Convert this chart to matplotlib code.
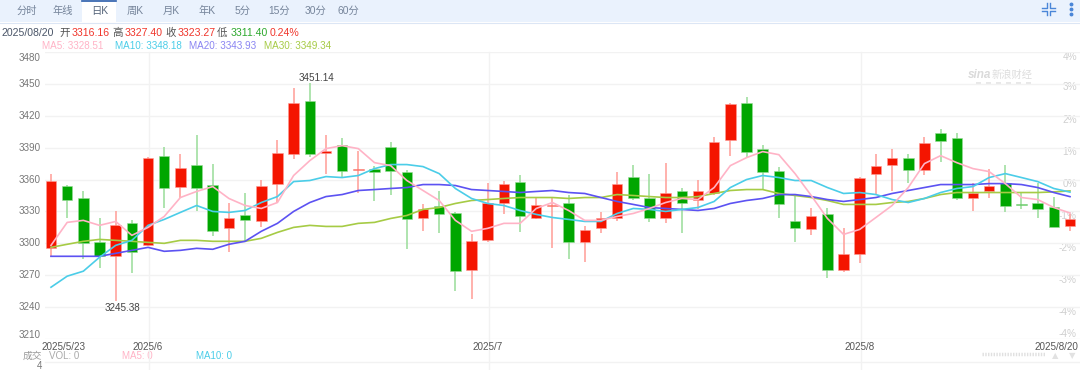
import matplotlib
matplotlib.use('Agg')
import matplotlib.pyplot as plt
from matplotlib.patches import Rectangle

W, H = 1080, 370
CJK = ['Liberation Sans', 'Noto Sans CJK SC', 'DejaVu Sans']
plt.rcParams['font.family'] = CJK

tabs = ['分时', '年线', '日K', '周K', '月K', '年K', '5分', '15分', '30分', '60分']
tab_x = [27, 63, 100, 135, 171, 207, 243, 279, 315, 348]

opens = [3295.3, 3354.4, 3343.1, 3300.9, 3287.8, 3318.8, 3298.1, 3382.5, 3353.4, 3374.1,
         3355.3, 3314.1, 3326.2, 3320.6, 3356.2, 3384.4, 3434.1, 3385.3, 3392.8, 3368.9,
         3370.3, 3390.9, 3367.5, 3324.3, 3334.7, 3328.1, 3274.7, 3302.8, 3338.4, 3358.1,
         3324.3, 3334.7, 3338.4, 3300.9, 3314.1, 3323.4, 3362.8, 3343.1, 3323.4, 3348.8,
         3340.3, 3347.8, 3397.5, 3432.2, 3389.1, 3368.4, 3320.6, 3313.1, 3327.2, 3274.7,
         3289.7, 3365.6, 3374.1, 3380.6, 3369.4, 3404.1, 3399.4, 3342.2, 3348.8, 3357.2,
         3336.6, 3337.5, 3333.8, 3316.16]
closes = [3359.1, 3341.2, 3300.0, 3287.8, 3316.9, 3291.5, 3380.6, 3352.5, 3371.3, 3351.6,
          3311.3, 3324.3, 3321.6, 3354.4, 3385.3, 3432.2, 3384.4, 3387.2, 3368.4, 3370.3,
          3367.5, 3368.4, 3322.5, 3331.9, 3327.2, 3273.8, 3301.9, 3338.4, 3356.2, 3325.3,
          3335.6, 3335.6, 3300.9, 3312.2, 3323.4, 3356.2, 3343.1, 3324.3, 3346.9, 3338.4,
          3349.2, 3395.6, 3431.2, 3386.3, 3367.5, 3336.6, 3314.1, 3325.3, 3274.7, 3289.7,
          3361.9, 3373.1, 3380.6, 3369.4, 3394.7, 3396.6, 3342.2, 3346.9, 3354.4, 3334.7,
          3335.6, 3331.9, 3315.0, 3323.27]
highs = [3365.6, 3355.3, 3348.8, 3324.3, 3330.0, 3321.6, 3381.6, 3390.9, 3384.4, 3402.2,
         3375.0, 3337.5, 3347.8, 3360.0, 3397.5, 3446.3, 3451.14, 3402.2, 3399.4, 3387.2,
         3373.1, 3395.6, 3369.4, 3336.6, 3348.8, 3329.1, 3308.4, 3357.2, 3359.1, 3364.7,
         3344.0, 3342.2, 3345.0, 3315.9, 3329.1, 3367.5, 3374.1, 3365.6, 3375.9, 3351.6,
         3360.0, 3400.3, 3432.2, 3437.8, 3392.8, 3372.2, 3345.0, 3332.8, 3332.8, 3314.1,
         3362.8, 3384.4, 3389.1, 3384.4, 3400.3, 3407.8, 3404.1, 3357.2, 3370.3, 3374.1,
         3347.8, 3357.2, 3344.0, 3327.40]
lows = [3286.9, 3323.4, 3285.0, 3276.6, 3245.38, 3271.9, 3297.2, 3332.8, 3343.1, 3330.0,
        3306.6, 3291.5, 3301.0, 3315.0, 3337.5, 3379.7, 3381.6, 3365.6, 3361.9, 3346.9,
        3339.4, 3345.9, 3294.4, 3311.3, 3309.4, 3255.0, 3247.5, 3301.0, 3327.2, 3310.3,
        3322.5, 3295.3, 3285.0, 3282.2, 3309.4, 3320.6, 3340.3, 3319.7, 3318.8, 3309.4,
        3331.9, 3345.0, 3382.5, 3380.6, 3350.6, 3324.3, 3301.0, 3307.5, 3267.2, 3272.8,
        3281.2, 3345.0, 3348.8, 3357.2, 3364.7, 3376.9, 3340.3, 3330.0, 3342.2, 3329.1,
        3331.9, 3323.4, 3315.0, 3311.40]

ma5 = [3298.1, 3319.7, 3321.6, 3316.9, 3320.6, 3307.5, 3315.0, 3325.3, 3343.1, 3348.8,
       3353.4, 3342.2, 3335.6, 3332.8, 3338.4, 3363.8, 3377.8, 3389.1, 3391.9, 3389.1,
       3375.9, 3373.1, 3359.1, 3349.7, 3340.3, 3321.6, 3311.3, 3314.1, 3318.8, 3318.8,
       3332.8, 3338.4, 3330.9, 3321.6, 3321.6, 3325.3, 3328.1, 3332.8, 3338.4, 3342.2,
       3341.2, 3352.5, 3373.1, 3380.6, 3386.3, 3383.4, 3365.6, 3345.0, 3323.4, 3308.4,
       3313.1, 3324.3, 3335.6, 3352.5, 3375.0, 3382.5, 3375.9, 3370.3, 3367.5, 3356.2,
       3343.1, 3341.2, 3333.7, 3328.51]
ma10 = [3258.7, 3269.1, 3273.8, 3286.9, 3298.1, 3302.8, 3316.9, 3322.5, 3329.1, 3335.6,
        3330.0, 3329.1, 3330.9, 3338.4, 3344.0, 3358.1, 3359.1, 3362.8, 3361.9, 3363.8,
        3370.3, 3374.1, 3374.1, 3372.2, 3365.6, 3351.6, 3342.2, 3337.5, 3335.6, 3330.9,
        3327.2, 3324.3, 3322.5, 3320.6, 3320.6, 3328.1, 3332.8, 3331.9, 3330.0, 3331.9,
        3333.7, 3339.4, 3352.5, 3360.0, 3363.8, 3361.9, 3359.1, 3359.1, 3352.5, 3346.9,
        3347.8, 3345.9, 3341.2, 3338.4, 3342.2, 3347.8, 3351.6, 3353.4, 3361.9, 3365.6,
        3361.9, 3358.1, 3351.6, 3348.18]
ma20 = [3287.8, 3287.8, 3287.8, 3287.8, 3290.6, 3293.4, 3296.2, 3292.5, 3293.4, 3295.3,
        3294.4, 3299.1, 3301.9, 3311.3, 3318.8, 3330.0, 3338.4, 3344.0, 3345.9, 3349.7,
        3350.6, 3351.6, 3352.5, 3355.3, 3355.3, 3354.4, 3350.6, 3349.7, 3348.8, 3347.8,
        3348.8, 3349.7, 3347.8, 3346.9, 3343.1, 3339.4, 3336.6, 3333.7, 3332.8, 3331.9,
        3330.9, 3332.8, 3337.5, 3340.3, 3342.2, 3345.9, 3345.9, 3344.0, 3341.2, 3339.4,
        3341.2, 3343.1, 3346.9, 3349.7, 3352.5, 3355.3, 3355.3, 3355.3, 3356.2, 3356.2,
        3355.3, 3352.5, 3347.8, 3343.93]
ma30 = [3296.2, 3299.1, 3301.9, 3303.7, 3302.8, 3301.9, 3300.9, 3300.0, 3302.8, 3302.8,
        3301.9, 3301.9, 3301.9, 3304.7, 3310.3, 3315.0, 3316.9, 3315.9, 3315.9, 3318.8,
        3319.7, 3323.4, 3326.2, 3331.9, 3333.7, 3337.5, 3340.3, 3341.2, 3342.2, 3343.1,
        3343.1, 3343.1, 3342.2, 3343.1, 3343.1, 3345.9, 3345.0, 3344.0, 3343.1, 3343.1,
        3344.0, 3346.9, 3349.7, 3350.6, 3350.6, 3346.9, 3345.0, 3343.1, 3340.3, 3336.6,
        3336.6, 3336.6, 3338.4, 3339.4, 3342.2, 3345.9, 3347.8, 3347.8, 3347.8, 3347.8,
        3347.8, 3347.8, 3348.4, 3349.34]

price_ticks = [3480, 3450, 3420, 3390, 3360, 3330, 3300, 3270, 3240, 3210]
pct_labels = ['4%', '3%', '2%', '1%', '0%', '-1%', '-2%', '-3%', '-4%', '-4%']
pct_y = [57, 87, 120, 152, 184, 216, 248, 280, 312, 334]
date_idx = [6, 27, 50]
date_labels = ['2025/6', '2025/7', '2025/8']

RED = '#F41500'
GREEN = '#00A600'
RED_WICK = '#FF9C96'
GREEN_WICK = '#98DC98'
MA_COLORS = ['#FFB3C6', '#4BCDE8', '#5C52F2', '#A6CB45']
GRID = '#F2F2F2'

fig = plt.figure(figsize=(W / 100, H / 100), dpi=100, facecolor='white')

# pixel space layer for the toolbar and all the text round the chart
bg = fig.add_axes([0, 0, 1, 1], zorder=0)
bg.set_xlim(0, W)
bg.set_ylim(H, 0)
bg.axis('off')

bg.add_patch(Rectangle((0, 0), W, 22, color='#EAF2FD', lw=0))
bg.plot([0, W], [22.5, 22.5], color='#DCE6F5', lw=0.8)
bg.add_patch(Rectangle((82, 0), 34, 23, color='white', lw=0))
bg.plot([82, 116], [0.7, 0.7], color='#2A5CAA', lw=1.2)
for t, x in zip(tabs, tab_x):
    c = '#56657A' if t == '日K' else '#75849A'
    bg.text(x, 11, t, ha='center', va='center', fontsize=7.4, color=c)

# compress icon + dots, top right
icon = '#4A86D8'
cx, cy = 1048, 9
for sx, sy in [(-1, -1), (1, -1), (-1, 1), (1, 1)]:
    bg.plot([cx + sx * 1.5, cx + sx * 1.5, cx + sx * 6.5], [cy + sy * 6, cy + sy * 1.5, cy + sy * 1.5],
            color=icon, lw=1.0)
bg.plot([1071, 1071, 1071], [4, 9, 14], ls='', marker='o', ms=1.8, color=icon)

y_info = 33
bg.text(2, y_info, '2025/08/20', va='center', fontsize=7.6, color='#4A5568')
info = [(59, '开', '#555555'), (72, '3316.16', '#F0352B'), (112, '高', '#555555'), (125, '3327.40', '#F0352B'),
        (165, '收', '#555555'), (178, '3323.27', '#F0352B'), (217, '低', '#555555'), (231, '3311.40', '#2DA82D'),
        (270, '0.24%', '#F0352B')]
for x, s, c in info:
    bg.text(x, y_info, s, va='center', fontsize=7.6, color=c)
ma_text = [(42, 'MA5: 3328.51'), (115, 'MA10: 3348.18'), (189, 'MA20: 3343.93'), (264, 'MA30: 3349.34')]
for (x, s), c in zip(ma_text, ['#FFB3C6', '#4BCDE8', '#8A84F2', '#A6CB45']):
    bg.text(x, 46, s, va='center', fontsize=7.1, color=c)

# watermark
bg.text(968, 75, 'sina', va='center', fontsize=8.5, style='italic', weight='bold', color='#DADADA')
bg.text(992, 75, '新浪财经', va='center', fontsize=7.4, style='italic', color='#DDDDDD')
bg.plot([976, 1032], [83, 83], color='#E4E4E4', lw=1.2, ls=(0, (3, 3)))

for s, y in zip(pct_labels, pct_y):
    bg.text(1077, y, s, ha='right', va='center', fontsize=7.2, color='#CFCFCF')

bg.plot([45, W], [362, 362], color=GRID, lw=1)
bg.text(63, 347, '2025/5/23', ha='center', va='center', fontsize=7.1, color='#555555')
bg.text(1078, 347, '2025/8/20', ha='right', va='center', fontsize=7.1, color='#555555')
bg.text(23, 356, '成交', va='center', fontsize=7, color='#999999')
bg.text(49, 356, 'VOL: 0', va='center', fontsize=7, color='#AAAAAA')
bg.text(122, 356, 'MA5: 0', va='center', fontsize=7, color='#FFB3C6')
bg.text(196, 356, 'MA10: 0', va='center', fontsize=7, color='#4BCDE8')
bg.text(42, 366, '4', ha='right', va='center', fontsize=7, color='#777777')
bg.plot([982, 1045], [354, 354], color='#E0E0E0', lw=2.5, ls=(0, (0.4, 0.4)))
bg.text(1055, 356, '▲', ha='center', va='center', fontsize=6, color='#E2E2E2', family='DejaVu Sans')
bg.text(1072, 356, '▼', ha='center', va='center', fontsize=6, color='#E2E2E2', family='DejaVu Sans')

# main chart, spacing of one candle is 16.17 px
ax = fig.add_axes([45 / W, 1 - 339 / H, (W - 45) / W, 287 / H], zorder=1)
ax.patch.set_alpha(0)
xs = list(range(len(opens)))
ax.set_xlim(-6 / 16.17, 63 + 10 / 16.17)
ax.set_ylim(3210, 3480)
for sp in ax.spines.values():
    sp.set_visible(False)
ax.set_xticks([])
ax.set_yticks(price_ticks)
ax.tick_params(left=False, labelleft=False)
ax.grid(axis='y', color=GRID, lw=1)
ax.set_axisbelow(True)
for i in date_idx:
    ax.axvline(i + 0.06, ymin=-0.108, ymax=1, color=GRID, lw=1, clip_on=False, zorder=0)

for p in price_ticks:
    dy = {3480: 6, 3210: -4}.get(p, 0)
    ax.annotate(str(p), (0, p), xycoords=ax.get_yaxis_transform(), xytext=(-3, -dy * 0.72), textcoords='offset points',
                ha='right', va='center', fontsize=7.1, color='#777777', annotation_clip=False)
for i, s in zip(date_idx, date_labels):
    ax.annotate(s, (i, 0), xycoords=ax.get_xaxis_transform(), xytext=(0, -5.8), textcoords='offset points',
                ha='center', va='center', fontsize=7.1, color='#555555', annotation_clip=False)

for x, o, c, h, l in zip(xs, opens, closes, highs, lows):
    up = c >= o
    ax.vlines(x, l, h, color=RED_WICK if up else GREEN_WICK, lw=1.1, zorder=2)
    ax.bar(x, abs(c - o), bottom=min(o, c), width=0.65, color=RED if up else GREEN,
           edgecolor=RED_WICK if up else GREEN_WICK, lw=0.4, zorder=3)

for vals, c in zip([ma30, ma20, ma10, ma5], MA_COLORS[::-1]):
    ax.plot(xs, vals, color=c, lw=1.2, zorder=4)

ax.annotate('3451.14', (16, 3451.14), xytext=(5, 3.5), textcoords='offset points',
            ha='center', va='center', fontsize=7.1, color='#444444', annotation_clip=False)
ax.annotate('3245.38', (4, 3245.38), xytext=(5, -5), textcoords='offset points',
            ha='center', va='center', fontsize=7.1, color='#444444', annotation_clip=False)

fig.savefig('out.png', dpi=100)
plt.close(fig)
